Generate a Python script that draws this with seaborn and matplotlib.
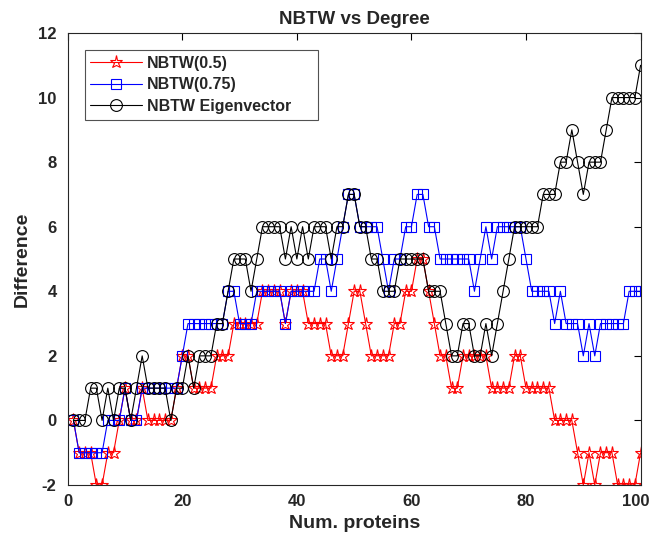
import numpy as np
import pandas as pd
import matplotlib
matplotlib.use('Agg')
import matplotlib.pyplot as plt
import matplotlib.transforms as mtransforms
import seaborn as sns

# 데이터
num_proteins = list(range(1, 101))

nbtw_05 = [0, -1, -1, -1, -2, -2, -1, -1, 0, 1,
           0, 0, 1, 0, 0, 0, 0, 0, 1, 2,
           2, 1, 1, 1, 1, 2, 2, 2, 3, 3,
           3, 3, 3, 4, 4, 4, 4, 3, 4, 4,
           4, 3, 3, 3, 3, 2, 2, 2, 3, 4,
           4, 3, 2, 2, 2, 2, 3, 3, 4, 4,
           5, 5, 4, 3, 2, 2, 1, 1, 2, 2,
           2, 2, 2, 1, 1, 1, 1, 2, 2, 1,
           1, 1, 1, 1, 0, 0, 0, 0, -1, -2,
           -1, -2, -1, -1, -1, -2, -2, -2, -2, -1]

nbtw_075 = [0, -1, -1, -1, -1, -1, 0, 0, 0, 1,
            0, 0, 1, 1, 1, 1, 1, 1, 1, 2,
            3, 3, 3, 3, 3, 3, 3, 4, 4, 3,
            3, 3, 4, 4, 4, 4, 4, 3, 4, 4,
            4, 4, 4, 5, 5, 4, 5, 6, 7, 7,
            6, 6, 6, 6, 5, 4, 5, 5, 6, 6,
            7, 7, 6, 6, 5, 5, 5, 5, 5, 5,
            4, 5, 6, 5, 6, 6, 6, 6, 6, 5,
            4, 4, 4, 4, 3, 4, 3, 3, 3, 2,
            3, 2, 3, 3, 3, 3, 3, 4, 4, 4]

nbtw_eig = [0, 0, 0, 1, 1, 0, 1, 0, 1, 1,
            0, 1, 2, 1, 1, 1, 1, 0, 1, 1,
            2, 1, 2, 2, 2, 3, 3, 4, 5, 5,
            5, 4, 5, 6, 6, 6, 6, 5, 6, 5,
            6, 5, 6, 6, 6, 5, 6, 6, 7, 7,
            6, 6, 5, 5, 4, 4, 4, 5, 5, 5,
            5, 5, 4, 4, 4, 3, 2, 2, 3, 3,
            2, 2, 3, 2, 3, 4, 5, 6, 6, 6,
            6, 6, 7, 7, 7, 8, 8, 9, 8, 7,
            8, 8, 8, 9, 10, 10, 10, 10, 10, 11]

labels = ['NBTW(0.5)', 'NBTW(0.75)', 'NBTW Eigenvector']
colors = ['red', 'blue', 'black']
markers = ['*', 's', 'o']
msizes = [9.5, 6.5, 8.5]

sns.set_style('white')
plt.rcParams['font.family'] = ['Liberation Sans', 'DejaVu Sans']
plt.rcParams['axes.unicode_minus'] = False

fig = plt.figure(figsize=(6.51, 5.41), dpi=100)
ax = fig.add_axes([0.104, 0.1035, 0.880, 0.8355])

for vals, lab, col, mk, ms in zip([nbtw_05, nbtw_075, nbtw_eig], labels, colors, markers, msizes):
    df = pd.DataFrame({'x': num_proteins, 'y': vals})
    sns.lineplot(data=df, x='x', y='y', ax=ax, color=col, marker=mk,
                 markersize=ms, markerfacecolor='none',
                 markeredgecolor=col, markeredgewidth=0.8, linewidth=0.8,
                 label=lab)

ax.set_xlim(0, 100)
ax.set_ylim(-2, 12)
ax.set_xticks([0, 20, 40, 60, 80, 100])
ax.set_yticks([-2, 0, 2, 4, 6, 8, 10, 12])
ax.tick_params(direction='in', top=True, right=True, length=5, width=0.8,
               labelsize=12, colors='black', pad=6.5)
ax.tick_params(axis='y', pad=8)
for lbl in ax.get_xticklabels() + ax.get_yticklabels():
    lbl.set_fontweight('bold')
    lbl.set_color('#262626')

# 마지막 x 눈금 라벨이 잘리지 않게 약간 왼쪽으로
last = ax.xaxis.get_major_ticks()[-1].label1
last.set_transform(last.get_transform() + mtransforms.ScaledTranslation(-5 / 100, 0, fig.dpi_scale_trans))

for s in ax.spines.values():
    s.set_color('#262626')
    s.set_linewidth(0.8)

ax.set_title('NBTW vs Degree', fontsize=13.5, fontweight='bold', pad=6.5)
ax.set_xlabel('Num. proteins', fontsize=14, fontweight='bold', labelpad=4,
              color='#262626')
ax.set_ylabel('Difference', fontsize=14, fontweight='bold', labelpad=5.5,
              color='#262626')

leg = ax.legend(loc='upper left', bbox_to_anchor=(17 / 573, 0, 233 / 573, 1 - 17 / 452),
                mode='expand', borderaxespad=0,
                prop={'weight': 'bold', 'size': 11.5},
                frameon=True, fancybox=False, edgecolor='#262626',
                handlelength=3.25, handletextpad=0.3, labelspacing=0.42,
                borderpad=0.35)
leg.get_frame().set_linewidth(0.8)

fig.savefig('out.png', dpi=100)
